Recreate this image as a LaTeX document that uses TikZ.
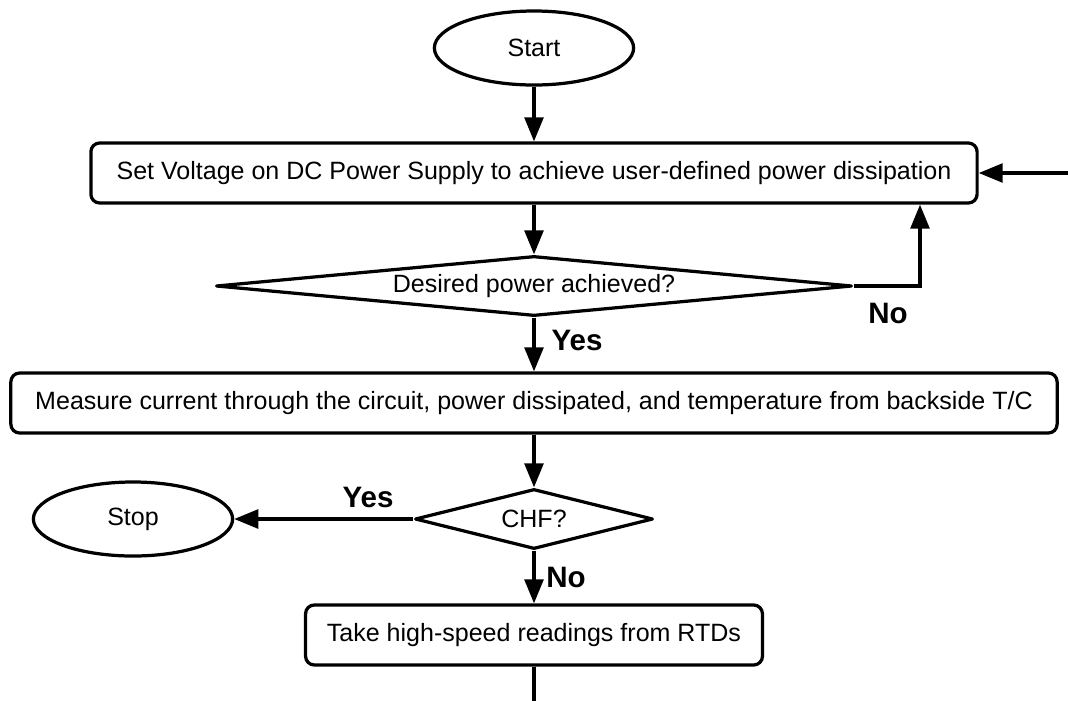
\documentclass[tikz,border=0pt]{standalone}
\usepackage{fontspec}
\setmainfont{Liberation Sans}
\usetikzlibrary{shapes.geometric, arrows.meta}
\tikzset{
  terminal/.style={
    ellipse, minimum width=4.98cm, minimum height=1.85cm,
    text centered, draw=black, line width=2.3pt, fill=white
  },
  process/.style={
    rectangle, rounded corners=0.22cm, minimum height=1.5cm,
    text centered, draw=black, line width=2.3pt, fill=white
  },
  decision/.style={
    diamond, aspect=8, inner sep=0pt, minimum height=1.5cm,
    text centered, draw=black, line width=2.3pt, line join=round, fill=white
  },
  arrow/.style={
    -{Triangle[length=0.6cm,width=0.47cm]}, line width=2.3pt, color=black
  },
  answer/.style={
    font=\fontsize{21}{25}\selectfont\bfseries
  }
}

\begin{document}
\begin{tikzpicture}[x=0.025cm, y=-0.025cm, every node/.style={font=\fontsize{17.8}{21}\selectfont}]
  \useasboundingbox (0,0) rectangle (1068,700);
  \clip (0,0) rectangle (1068,700);

  % Flow nodes
  \node[terminal] (start) at (534,48) {Start};
  \node[process, minimum width=22.15cm] (setvolt) at (534,173)
    {Set Voltage on DC Power Supply to achieve user-defined power dissipation};
  \node[decision, minimum width=15.9cm] (desired) at (534,286) {Desired power achieved?};
  \node[process, minimum width=26.15cm] (measure) at (534,403)
    {Measure current through the circuit, power dissipated, and temperature from backside T/C};
  \node[decision, aspect=4, minimum width=5.95cm] (chf) at (534,519) {CHF?};
  \node[terminal] (stop) at (133,519) {Stop};
  \node[process, minimum width=11.42cm] (readings) at (534,635) {Take high-speed readings from RTDs};

  % Connectors
  \draw[arrow] (start) -- (setvolt);
  \draw[arrow] (setvolt) -- (desired);
  \coordinate (retry) at (920,286);
  \draw[arrow] (desired.east) -- (retry) -- (retry |- setvolt.south);
  \draw[arrow] (desired) -- (measure);
  \draw[arrow] (measure) -- (chf);
  \draw[arrow] (chf) -- (stop);
  \draw[arrow] (chf) -- (readings);

  % Loop back to the top box
  \coordinate (rail) at (1073,703);
  \draw[arrow] (readings.south) |- (rail) |- (setvolt.east);

  % Answers
  \node[answer] (noretry) at (888,313) {No};
  \node[answer] (yesgo) at (577,340) {Yes};
  \node[answer] (yesstop) at (368,497) {Yes};
  \node[answer] (nogo) at (566,577) {No};
\end{tikzpicture}
\end{document}
